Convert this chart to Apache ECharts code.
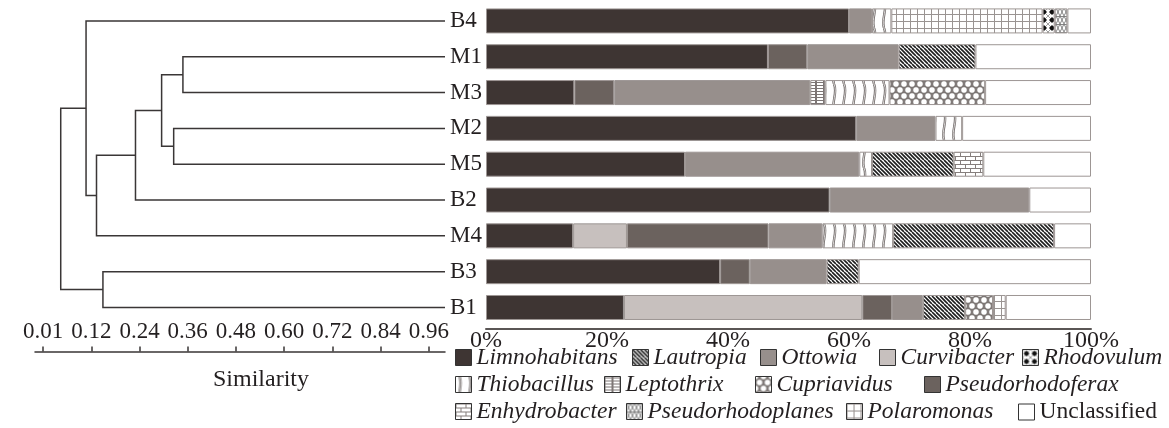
<!DOCTYPE html>
<html>
<head>
<meta charset="utf-8">
<script src="https://cdn.jsdelivr.net/npm/echarts@6/dist/echarts.min.js"></script>
<style>
  html, body { margin: 0; padding: 0; background: #fff; }
  #chart { width: 1169px; height: 428px; }
</style>
</head>
<body>
<div id="chart"></div>
<script>
// Samples, top to bottom
const samples = ['B4', 'M1', 'M3', 'M2', 'M5', 'B2', 'M4', 'B3', 'B1'];

// Relative abundance (%) of each genus per sample
const limnohabitans     = [60.0, 46.6, 14.6, 61.2, 32.9, 56.8, 14.4, 38.7, 22.8];
const curvibacter       = [0, 0, 0, 0, 0, 0, 8.9, 0, 39.4];
const pseudorhodoferax  = [0, 6.5, 6.6, 0, 0, 0, 23.4, 4.9, 4.9];
const ottowia           = [3.8, 15.1, 32.4, 13.1, 28.8, 33.0, 8.9, 12.7, 5.1];
const leptothrix        = [0, 0, 2.5, 0, 0, 0, 0, 0, 0];
const thiobacillus      = [3.2, 0, 10.6, 4.4, 2.1, 0, 11.7, 0, 0];
const lautropia         = [0, 12.7, 0, 0, 13.5, 0, 26.6, 5.3, 7.0];
const cupriavidus       = [0, 0, 15.8, 0, 0, 0, 0, 0, 4.6];
const enhydrobacter     = [0, 0, 0, 0, 4.9, 0, 0, 0, 0];
const polaromonas       = [25.0, 0, 0, 0, 0, 0, 0, 0, 2.1];
const rhodovulum        = [2.0, 0, 0, 0, 0, 0, 0, 0, 0];
const pseudorhodoplanes = [2.1, 0, 0, 0, 0, 0, 0, 0, 0];
const unclassified      = [3.9, 19.1, 17.5, 21.3, 17.8, 10.2, 6.1, 38.4, 14.1];

// Cluster merges: [member A, member B, similarity]; nodes are named n0, n1, ...
const clusterMerges = [
  ['M1', 'M3', 0.348],  // n0
  ['M2', 'M5', 0.325],  // n1
  ['n0', 'n1', 0.295],  // n2
  ['n2', 'B2', 0.230],  // n3
  ['n3', 'M4', 0.133],  // n4
  ['B4', 'n4', 0.107],  // n5
  ['B3', 'B1', 0.149],  // n6
  ['n5', 'n6', 0.044]   // n7
];
const leafSimilarity = 1.0;

// Similarity axis ticks and their printed labels
const simTickValues = [0, 0.12, 0.24, 0.36, 0.48, 0.60, 0.72, 0.84, 0.96];
const simTickLabels = ['0.01', '0.12', '0.24', '0.36', '0.48', '0.60', '0.72', '0.84', '0.96'];

// Legend rows
const legendRow1 = ['Limnohabitans', 'Lautropia', 'Ottowia', 'Curvibacter', 'Rhodovulum'];
const legendRow2 = ['Thiobacillus', 'Leptothrix', 'Cupriavidus', 'Pseudorhodoferax'];
const legendRow3 = ['Enhydrobacter', 'Pseudorhodoplanes', 'Polaromonas', 'Unclassified'];

// Legend layout: left edge of each entry, per row
const legendLefts = [
  [455, 632, 760, 879, 1022],
  [455, 604, 755, 924],
  [455, 626, 846, 1018]
];
const legendTops = [346, 373, 400];

// ---- fill textures ----
function texture(w, h, draw) {
  const c = document.createElement('canvas');
  c.width = w; c.height = h;
  const g = c.getContext('2d');
  g.fillStyle = '#fff';
  g.fillRect(0, 0, w, h);
  draw(g, w, h);
  return { image: c, repeat: 'repeat' };
}
function line(g, x1, y1, x2, y2) { g.beginPath(); g.moveTo(x1, y1); g.lineTo(x2, y2); g.stroke(); }

const fills = {
  Limnohabitans: '#3e3533',
  Curvibacter: '#c7c0be',
  Pseudorhodoferax: '#6b625e',
  Ottowia: '#978f8c',
  Unclassified: '#ffffff',
  Lautropia: texture(8, 8, g => {
    g.strokeStyle = '#1c1c1c'; g.lineWidth = 1.6;
    for (let c = -8; c <= 8; c += 4) line(g, c, 0, c + 8, 8);
  }),
  Thiobacillus: texture(10, 28, g => {
    const strand = () => { g.beginPath(); g.moveTo(4, 0); g.bezierCurveTo(8, 9, 1, 18, 4, 28); g.stroke(); };
    g.strokeStyle = '#6e6867'; g.lineWidth = 2.4; strand();
    g.strokeStyle = '#f2f0ef'; g.lineWidth = 0.8; strand();
  }),
  Leptothrix: texture(8, 9, g => {
    g.strokeStyle = '#7d7675'; g.lineWidth = 1;
    line(g, 0, 1.5, 8, 1.5); line(g, 0, 4.5, 8, 4.5); line(g, 0, 7.5, 8, 7.5);
    line(g, 0.5, 0, 0.5, 9); line(g, 7.5, 0, 7.5, 9);
  }),
  Cupriavidus: texture(8, 12, g => {
    g.fillStyle = '#857d7b'; g.fillRect(0, 0, 8, 12);
    g.fillStyle = '#fff'; g.strokeStyle = '#4f4947'; g.lineWidth = 0.6;
    [[0, 0], [8, 0], [4, 6], [0, 12], [8, 12]].forEach(([x, y]) => {
      g.beginPath(); g.arc(x, y, 3.3, 0, Math.PI * 2); g.fill(); g.stroke();
    });
  }),
  Enhydrobacter: texture(10, 8, g => {
    g.strokeStyle = '#857e7c'; g.lineWidth = 1;
    line(g, 0, 0.5, 10, 0.5); line(g, 0, 4.5, 10, 4.5);
    line(g, 0.5, 0, 0.5, 4.5); line(g, 5.5, 4.5, 5.5, 8);
  }),
  Polaromonas: texture(7, 7, g => {
    g.strokeStyle = '#9a9492'; g.lineWidth = 1;
    line(g, 0.5, 0, 0.5, 7); line(g, 0, 0.5, 7, 0.5);
  }),
  Rhodovulum: texture(8, 8, g => {
    g.strokeStyle = '#888'; g.lineWidth = 0.8;
    line(g, 0, 0, 8, 8); line(g, 8, 0, 0, 8);
    g.fillStyle = '#111';
    g.beginPath(); g.moveTo(4, 1); g.lineTo(7, 4); g.lineTo(4, 7); g.lineTo(1, 4); g.closePath(); g.fill();
  }),
  Pseudorhodoplanes: texture(8, 8, g => {
    g.strokeStyle = '#777'; g.lineWidth = 0.9;
    line(g, 0, 8, 4, 0); line(g, 4, 0, 8, 8);
    line(g, 0, 0, 4, 8); line(g, 4, 8, 8, 0);
    line(g, 0, 0.5, 8, 0.5);
  })
};

// Stacking order, left to right inside each bar
const stackOrder = [
  ['Limnohabitans', limnohabitans],
  ['Curvibacter', curvibacter],
  ['Pseudorhodoferax', pseudorhodoferax],
  ['Ottowia', ottowia],
  ['Leptothrix', leptothrix],
  ['Thiobacillus', thiobacillus],
  ['Lautropia', lautropia],
  ['Cupriavidus', cupriavidus],
  ['Enhydrobacter', enhydrobacter],
  ['Polaromonas', polaromonas],
  ['Rhodovulum', rhodovulum],
  ['Pseudorhodoplanes', pseudorhodoplanes],
  ['Unclassified', unclassified]
];

// ---- dendrogram geometry from the merge list ----
const nodePos = {};
samples.forEach((s, i) => { nodePos[s] = { x: leafSimilarity, y: i }; });
const dendroData = clusterMerges.map(([a, b, sim], i) => {
  const pa = nodePos[a], pb = nodePos[b];
  nodePos['n' + i] = { x: sim, y: (pa.y + pb.y) / 2 };
  return [sim, pa.y, pb.y, pa.x, pb.x];
});

const serif = '"Liberation Serif", "Times New Roman", serif';
const ink = '#231f20';

const series = stackOrder.map(([name, values]) => ({
  name,
  type: 'bar',
  stack: 'total',
  xAxisIndex: 0,
  yAxisIndex: 0,
  barWidth: 25,
  data: values.map(v => (v > 0 ? v : null)),
  itemStyle: { color: fills[name], borderColor: '#9d9694', borderWidth: 1 }
}));

series.push({
  type: 'custom',
  xAxisIndex: 1,
  yAxisIndex: 1,
  encode: { x: [0, 3, 4], y: [1, 2] },
  data: dendroData,
  renderItem: (params, api) => {
    const pts = [
      api.coord([api.value(3), api.value(1)]),
      api.coord([api.value(0), api.value(1)]),
      api.coord([api.value(0), api.value(2)]),
      api.coord([api.value(4), api.value(2)])
    ];
    return {
      type: 'polyline',
      shape: { points: pts },
      style: { stroke: '#3a3636', lineWidth: 1.5, fill: 'none' }
    };
  }
});

// One legend entry per component so each can sit at its own place
const legends = [];
[legendRow1, legendRow2, legendRow3].forEach((row, r) => {
  row.forEach((name, k) => {
    legends.push({
      data: [{ name, textStyle: { fontStyle: name === 'Unclassified' ? 'normal' : 'italic' } }],
      left: legendLefts[r][k],
      top: legendTops[r],
      padding: 0,
      itemWidth: 16,
      itemHeight: 16,
      icon: 'rect',
      selectedMode: false,
      itemStyle: { borderColor: '#333', borderWidth: 1 },
      textStyle: { fontFamily: serif, fontSize: 23.5, color: ink }
    });
  });
});

const option = {
  animation: false,
  backgroundColor: '#fff',
  title: {
    text: 'Similarity',
    left: 213,
    top: 368,
    padding: 0,
    textStyle: { fontFamily: serif, fontSize: 24, fontWeight: 'normal', color: ink }
  },
  legend: legends,
  grid: [
    { left: 486, right: 78, top: 3, bottom: 102.6, containLabel: false },
    { left: 35, right: 724, top: 3, bottom: 102.6, containLabel: false }
  ],
  xAxis: [
    {
      type: 'value', gridIndex: 0, position: 'bottom', min: 0, max: 100, interval: 20,
      offset: 3,
      axisLine: { show: true, lineStyle: { color: '#5a5655', width: 2 } },
      axisTick: { show: false },
      splitLine: { show: false },
      axisLabel: { formatter: '{value}%', fontFamily: serif, fontSize: 24, color: ink, margin: 0 }
    },
    {
      type: 'value', gridIndex: 1, position: 'bottom', min: -0.02, max: 1.0,
      offset: 26,
      axisLine: { show: true, onZero: false, lineStyle: { color: '#3a3636', width: 1.5 } },
      axisTick: { show: true, inside: true, length: 5, customValues: simTickValues, lineStyle: { color: '#3a3636', width: 1.5 } },
      splitLine: { show: false },
      axisLabel: {
        inside: true, margin: 8, customValues: simTickValues,
        fontFamily: serif, fontSize: 23, color: ink,
        formatter: v => {
          const i = simTickValues.findIndex(t => Math.abs(t - v) < 1e-6);
          return i >= 0 ? simTickLabels[i] : '';
        }
      }
    }
  ],
  yAxis: [
    {
      type: 'category', gridIndex: 0, data: samples, inverse: true,
      axisLine: { show: false }, axisTick: { show: false },
      axisLabel: { align: 'left', margin: 36, fontFamily: serif, fontSize: 23, color: ink }
    },
    {
      type: 'value', gridIndex: 1, min: -0.5, max: samples.length - 0.5, inverse: true,
      show: false, splitLine: { show: false }
    }
  ],
  series
};

const chart = echarts.init(document.getElementById('chart'), null, { renderer: 'canvas' });
chart.setOption(option);
</script>
</body>
</html>
